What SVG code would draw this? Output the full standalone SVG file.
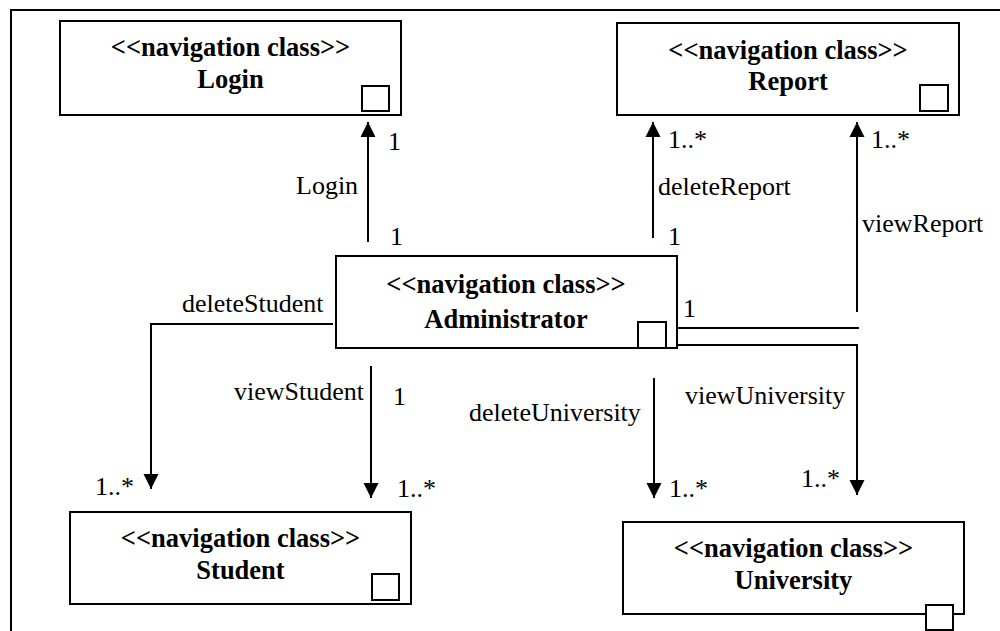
<svg xmlns="http://www.w3.org/2000/svg" width="1000" height="631" viewBox="0 0 1000 631" font-family="'Liberation Serif', 'Times New Roman', Times, 'DejaVu Serif', serif">
<style>
.box{fill:#fff;stroke:#000;stroke-width:2}
.sq{fill:#fff;stroke:#000;stroke-width:2}
text{font-family:'Liberation Serif','Times New Roman',Times,'DejaVu Serif',serif}
.t{font-size:26.5px;font-weight:bold;text-anchor:middle;fill:#000}
.l{font-size:26px;fill:#000}
.c{fill:none;stroke:#000;stroke-width:2}
.a{marker-end:url(#arr)}
</style>
<defs>
<marker id="arr" viewBox="0 0 10 10" refX="10" refY="5" markerWidth="15" markerHeight="16" markerUnits="userSpaceOnUse" orient="auto">
<path d="M0,0 L10,5 L0,10 z" fill="#000"/>
</marker>
</defs>
<rect width="1000" height="631" fill="#fff"/>
<g id="frame">
<path class="c" d="M11,631 V10 H1000"/>
</g>
<g id="login">
<rect class="box" x="60" y="21" width="341" height="94"/>
<rect class="sq" x="362" y="86" width="27" height="25"/>
<text class="t" x="230.5" y="56">&lt;&lt;navigation class&gt;&gt;</text>
<text class="t" x="230.5" y="88">Login</text>
</g>
<g id="report">
<rect class="box" x="617" y="23" width="342" height="92"/>
<rect class="sq" x="920" y="85" width="28" height="26"/>
<text class="t" x="788" y="59">&lt;&lt;navigation class&gt;&gt;</text>
<text class="t" x="788" y="90">Report</text>
</g>
<g id="administrator">
<rect class="box" x="336" y="256" width="341" height="92"/>
<rect class="sq" x="638" y="322" width="28" height="26"/>
<text class="t" x="506" y="293">&lt;&lt;navigation class&gt;&gt;</text>
<text class="t" x="506" y="328">Administrator</text>
</g>
<g id="student">
<rect class="box" x="70" y="512" width="341" height="92"/>
<rect class="sq" x="372" y="574" width="27" height="26"/>
<text class="t" x="240.5" y="547">&lt;&lt;navigation class&gt;&gt;</text>
<text class="t" x="240.5" y="579">Student</text>
</g>
<g id="university">
<rect class="box" x="623" y="522" width="341" height="92"/>
<rect class="sq" x="926" y="605" width="27" height="25"/>
<text class="t" x="793.5" y="557">&lt;&lt;navigation class&gt;&gt;</text>
<text class="t" x="793.5" y="589">University</text>
</g>
<g id="connectors">
<path class="c a" d="M368,242 V122"/>
<path class="c a" d="M653,238 V122"/>
<path class="c a" d="M857,312 V122"/>
<path class="c" d="M677,328 H859"/>
<path class="c a" d="M677,345 H857 V495"/>
<path class="c a" d="M654,378 V498"/>
<path class="c a" d="M333,324 H151 V489"/>
<path class="c a" d="M371,366 V498"/>
<text class="l" x="388" y="150">1</text>
<text class="l" x="296" y="194">Login</text>
<text class="l" x="390" y="245">1</text>
<text class="l" x="668" y="148">1..*</text>
<text class="l" x="658" y="195">deleteReport</text>
<text class="l" x="668" y="245">1</text>
<text class="l" x="871" y="148">1..*</text>
<text class="l" x="862" y="232">viewReport</text>
<text class="l" x="683" y="317">1</text>
<text class="l" x="685" y="404">viewUniversity</text>
<text class="l" x="801" y="487">1..*</text>
<text class="l" x="469" y="421">deleteUniversity</text>
<text class="l" x="669" y="497">1..*</text>
<text class="l" x="182" y="312">deleteStudent</text>
<text class="l" x="95" y="495">1..*</text>
<text class="l" x="234" y="400">viewStudent</text>
<text class="l" x="393" y="405">1</text>
<text class="l" x="397" y="497">1..*</text>
</g>
</svg>
